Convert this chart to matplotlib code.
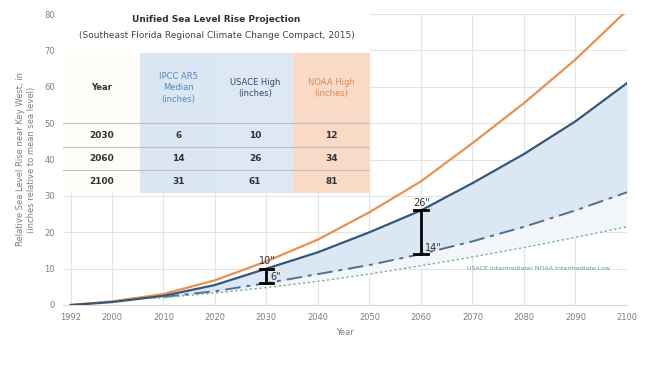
import matplotlib
matplotlib.use("Agg")
import matplotlib.pyplot as plt
from matplotlib.patches import Rectangle

# ---- data ----
years = [1992, 2000, 2010, 2020, 2030, 2040, 2050, 2060, 2070, 2080, 2090, 2100]
noaa_high = [0, 1.0, 3.0, 6.8, 12, 18, 25.5, 34, 44.5, 55.5, 67.5, 81]
usace_high = [0, 0.8, 2.5, 5.5, 10, 14.5, 20, 26, 33.5, 41.5, 50.5, 61]
ipcc_years = [2010, 2020, 2030, 2040, 2050, 2060, 2070, 2080, 2090, 2100]
ipcc_median = [2.2, 3.8, 6, 8.5, 11, 14, 17.5, 21.5, 26, 31]
int_years = [2008, 2020, 2030, 2040, 2050, 2060, 2070, 2080, 2090, 2100]
usace_int = [1.8, 3.3, 4.8, 6.5, 8.5, 10.8, 13.2, 15.8, 18.6, 21.5]
fill_high = [2.5, 5.5, 10, 14.5, 20, 26, 33.5, 41.5, 50.5, 61]

xticks = [1992, 2000, 2010, 2020, 2030, 2040, 2050, 2060, 2070, 2080, 2090, 2100]
yticks = [0, 10, 20, 30, 40, 50, 60, 70, 80]

table_cols = ["Year", "IPCC AR5\nMedian\n(inches)", "USACE High\n(inches)", "NOAA High\n(inches)"]
table_rows = [["2030", "6", "10", "12"],
              ["2060", "14", "26", "34"],
              ["2100", "31", "61", "81"]]

bars = [(2030, 6, 10), (2060, 14, 26)]

# ---- figure ----
W, H = 657, 373
fig = plt.figure(figsize=(W / 100, H / 100), dpi=100)
ax = fig.add_axes([63 / W, 1 - 305 / H, (627 - 63) / W, (305 - 14) / H])

ax.set_xlim(1990.5, 2100)
ax.set_ylim(0, 80)
ax.set_xticks(xticks)
ax.set_yticks(yticks)
ax.tick_params(length=0, labelsize=6, colors="#7f7f7f", pad=6)
ax.grid(True, color="#e4e4e4", lw=0.8)
ax.set_axisbelow(True)
for s in ["left", "top", "right"]:
    ax.spines[s].set_visible(False)
ax.spines["bottom"].set_color("#d9d9d9")

# fills
ax.fill_between(int_years, usace_int, [1.8] + ipcc_median[1:], color="#f2f6fb", lw=0, zorder=1)
ax.fill_between(ipcc_years, ipcc_median, fill_high, color="#dce7f4", lw=0, zorder=1)

ax.plot(years, noaa_high, color="#e8914f", lw=1.6, zorder=3)
ax.plot(years, usace_high, color="#34577a", lw=1.6, zorder=3)
ax.plot(ipcc_years, ipcc_median, color="#4e7190", lw=1.4, ls=(0, (8, 3, 2, 3)), zorder=3)
ax.plot(int_years, usace_int, color="#6fae8c", lw=1.0, ls=(0, (1.5, 2)), zorder=3)

for x, lo, hi in bars:
    ax.plot([x, x], [lo, hi], color="black", lw=2, zorder=5)
    ax.plot([x - 1.3, x + 1.3], [lo, lo], color="black", lw=2, zorder=5)
    ax.plot([x - 1.3, x + 1.3], [hi, hi], color="black", lw=2, zorder=5)
    ax.text(x - 1.5, hi + 0.6, f'{hi}"', fontsize=7, color="#333333", ha="left", va="bottom", zorder=6)
    ax.text(x + 0.8, lo + 0.4, f'{lo}"', fontsize=7, color="#333333", ha="left", va="bottom", zorder=6)

ax.text(2069, 10.2, "USACE Intermediate/ NOAA Intermediate Low", fontsize=4.5, color="#5aa37a",
        ha="left", va="center")

ax.set_xlabel("Year", fontsize=6, color="#7f7f7f", labelpad=4)
ax.set_ylabel("Relative Sea Level Rise near Key West, in\n(inches relative to mean sea level)",
              fontsize=6, color="#7f7f7f", labelpad=6)

# ---- table inset ----
tx0, tx1, ty0, ty1 = 63, 370, 10, 193
tax = fig.add_axes([tx0 / W, 1 - ty1 / H, (tx1 - tx0) / W, (ty1 - ty0) / H])
tax.set_xlim(tx0, tx1)
tax.set_ylim(ty1, ty0)
tax.axis("off")
tax.add_patch(Rectangle((tx0, ty0), tx1 - tx0, ty1 - ty0, facecolor="white", edgecolor="none", zorder=0))
col_x = [63, 140, 217, 293, 370]
col_bg = ["#fffdf8", "#dbe6f3", "#dde8f4", "#f9dac6"]
for i in range(4):
    tax.add_patch(Rectangle((col_x[i], 53), col_x[i + 1] - col_x[i], ty1 - 53,
                            facecolor=col_bg[i], edgecolor="none", zorder=1))
row_y = [53, 123, 147, 170, 193]
for y in row_y[1:4]:
    tax.plot([tx0, tx1], [y, y], color="#bfbfbf", lw=0.8, zorder=2)

tax.text((tx0 + tx1) / 2, 19, "Unified Sea Level Rise Projection", fontsize=6.5,
         fontweight="bold", color="#333333", ha="center", va="center")
tax.text((tx0 + tx1) / 2, 35, "(Southeast Florida Regional Climate Change Compact, 2015)",
         fontsize=6.5, color="#444444", ha="center", va="center")
head_col = ["#333333", "#5b86c5", "#2f4a6e", "#d98a55"]
for i in range(4):
    cx = (col_x[i] + col_x[i + 1]) / 2
    tax.text(cx, 88, table_cols[i], fontsize=6, color=head_col[i], ha="center", va="center",
             fontweight="bold" if i == 0 else "normal", linespacing=1.3)
    for r in range(3):
        cy = (row_y[r + 1] + row_y[r + 2]) / 2
        tax.text(cx, cy, table_rows[r][i], fontsize=6.5, color="#333333", ha="center",
                 va="center", fontweight="bold")

fig.savefig("out.png", dpi=100)
